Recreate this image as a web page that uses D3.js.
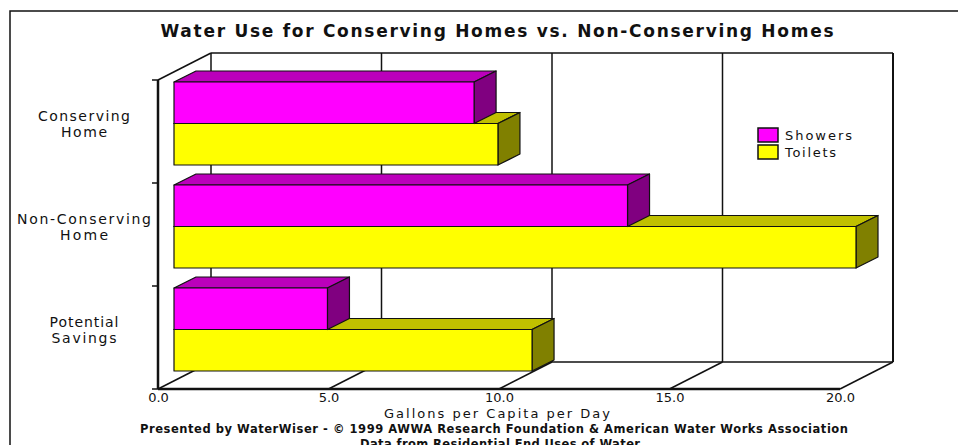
<!DOCTYPE html>
<html>
<head>
<meta charset="utf-8">
<script src="https://cdn.jsdelivr.net/npm/d3@7"></script>
<style>
  body { margin: 0; background: #fff; }
  svg { display: block; }
  text { font-family: "DejaVu Sans", "Liberation Sans", sans-serif; fill: #111; }
</style>
</head>
<body>
<script>
var categories = ["Conserving Home", "Non-Conserving Home", "Potential Savings"];
var categoryLines = [["Conserving", "Home"], ["Non-Conserving", "Home"], ["Potential", "Savings"]];
var series = ["Showers", "Toilets"];
var showers = [8.8, 13.3, 4.5];
var toilets = [9.5, 20.0, 10.5];
var xTicks = [0, 5, 10, 15, 20];

var width = 958, height = 445;

var svg = d3.select("body").append("svg")
    .attr("width", width)
    .attr("height", height);

// outer frame
svg.append("rect")
    .attr("x", 10).attr("y", 11)
    .attr("width", 980).attr("height", 470)
    .attr("fill", "none")
    .attr("stroke", "#111")
    .attr("stroke-width", 1.5);

svg.append("text")
    .attr("x", 497).attr("y", 37)
    .attr("text-anchor", "middle")
    .attr("font-size", 17)
    .attr("font-weight", "bold")
    .attr("textLength", 673)
    .text("Water Use for Conserving Homes vs. Non-Conserving Homes");

// front plane scales
var x = d3.scaleLinear().domain([0, 20]).range([158, 840]);
var y = d3.scaleBand().domain(categories).range([80, 389]);
var y1 = d3.scaleBand().domain(series).range([10, 93]);

// depth of the floor and of the bars
var depth = {dx: 53, dy: -27};
var barOff = {dx: 16, dy: -8};
var barDepth = {dx: 22, dy: -11};

var floorY = y.range()[1];
var g = svg.append("g");

// back wall
var backLeft = x(0) + depth.dx, backRight = x(20) + depth.dx;
var backTop = y.range()[0] + depth.dy, backBottom = floorY + depth.dy;

g.selectAll(".grid")
  .data(xTicks)
  .enter().append("line")
    .attr("x1", function(d) { return x(d) + depth.dx; })
    .attr("x2", function(d) { return x(d) + depth.dx; })
    .attr("y1", backTop)
    .attr("y2", backBottom)
    .attr("stroke", "#111")
    .attr("stroke-width", function(d) { return d == 20 ? 2 : 1.5; });

g.append("line")
    .attr("x1", backLeft).attr("x2", backRight)
    .attr("y1", backTop).attr("y2", backTop)
    .attr("stroke", "#111").attr("stroke-width", 1.5);
g.append("line")
    .attr("x1", backLeft).attr("x2", backRight)
    .attr("y1", backBottom).attr("y2", backBottom)
    .attr("stroke", "#111").attr("stroke-width", 1.5);

// floor diagonals
g.selectAll(".floor")
  .data(xTicks)
  .enter().append("line")
    .attr("x1", function(d) { return x(d); })
    .attr("x2", function(d) { return x(d) + depth.dx; })
    .attr("y1", floorY)
    .attr("y2", floorY + depth.dy)
    .attr("stroke", "#111")
    .attr("stroke-width", 1.5);

// left wall top edge
g.append("line")
    .attr("x1", x(0)).attr("x2", x(0) + depth.dx)
    .attr("y1", y.range()[0]).attr("y2", backTop)
    .attr("stroke", "#111").attr("stroke-width", 1.5);

// front floor edge
g.append("line")
    .attr("x1", x(0)).attr("x2", x(20))
    .attr("y1", floorY).attr("y2", floorY)
    .attr("stroke", "#111").attr("stroke-width", 2.5);

// y axis with ticks at category boundaries
g.append("line")
    .attr("x1", x(0)).attr("x2", x(0))
    .attr("y1", y.range()[0]).attr("y2", floorY)
    .attr("stroke", "#111").attr("stroke-width", 2.5);

var bounds = categories.map(function(c) { return y(c); }).concat([floorY]);
g.selectAll(".ytick")
  .data(bounds)
  .enter().append("line")
    .attr("x1", x(0) - 6).attr("x2", x(0))
    .attr("y1", function(d) { return d; })
    .attr("y2", function(d) { return d; })
    .attr("stroke", "#111").attr("stroke-width", 1.5);

// x axis labels
var xAxis = g.append("g")
    .attr("transform", "translate(0," + floorY + ")")
    .call(d3.axisBottom(x).tickValues(xTicks).tickFormat(d3.format(".1f")).tickSize(0).tickPadding(4));
xAxis.select(".domain").remove();
xAxis.selectAll("text")
    .attr("font-size", 13)
    .attr("fill", "#111")
    .style("font-family", "DejaVu Sans, sans-serif");

// category labels
var labelWidths = [[92, 46], [134, 48], [69, 65]];
categories.forEach(function(c, i) {
  var cy = y(c) + y1.range()[0] + barOff.dy + (y1.range()[1] - y1.range()[0]) / 2;
  var t = g.append("text")
      .attr("text-anchor", "middle")
      .attr("font-size", 14);
  categoryLines[i].forEach(function(line, j) {
    t.append("tspan")
        .attr("x", 84)
        .attr("y", cy - 3 + j * 16)
        .attr("textLength", labelWidths[i][j])
        .text(line);
  });
});

// bars
var colors = {
  Showers: {front: "#ff00ff", top: "#bb00bb", side: "#800080"},
  Toilets: {front: "#ffff00", top: "#c0c000", side: "#808000"}
};

function drawBar(cat, s, v) {
  var x0 = x(0) + barOff.dx, x1 = x(v) + barOff.dx;
  var y0 = y(cat) + y1(s) + barOff.dy, h = y1.bandwidth();
  var dx = barDepth.dx, dy = barDepth.dy;
  var c = colors[s];
  var bar = g.append("g")
      .attr("stroke", "#111")
      .attr("stroke-width", 1.2)
      .attr("stroke-linejoin", "round");
  bar.append("path")
      .attr("fill", c.top)
      .attr("d", "M" + x0 + "," + y0 + "L" + (x0 + dx) + "," + (y0 + dy) +
                 "L" + (x1 + dx) + "," + (y0 + dy) + "L" + x1 + "," + y0 + "Z");
  bar.append("path")
      .attr("fill", c.side)
      .attr("d", "M" + x1 + "," + y0 + "L" + (x1 + dx) + "," + (y0 + dy) +
                 "L" + (x1 + dx) + "," + (y0 + h + dy) + "L" + x1 + "," + (y0 + h) + "Z");
  bar.append("rect")
      .attr("fill", c.front)
      .attr("x", x0).attr("y", y0)
      .attr("width", x1 - x0).attr("height", h);
}

categories.forEach(function(c, i) {
  drawBar(c, "Toilets", toilets[i]);
  drawBar(c, "Showers", showers[i]);
});

// legend
var legend = svg.append("g").attr("transform", "translate(758,128)");
var legendWidths = [67, 51];
series.forEach(function(s, i) {
  legend.append("rect")
      .attr("x", 0).attr("y", i * 17)
      .attr("width", 20).attr("height", 14)
      .attr("fill", colors[s].front)
      .attr("stroke", "#111")
      .attr("stroke-width", 1.5);
  legend.append("text")
      .attr("x", 27).attr("y", i * 17 + 12)
      .attr("font-size", 13)
      .attr("textLength", legendWidths[i])
      .text(s);
});

// axis title and credits
svg.append("text")
    .attr("x", 497).attr("y", 418)
    .attr("text-anchor", "middle")
    .attr("font-size", 13)
    .attr("textLength", 226)
    .text("Gallons per Capita per Day");

svg.append("text")
    .attr("x", 494).attr("y", 433)
    .attr("text-anchor", "middle")
    .attr("font-size", 11.5)
    .attr("font-weight", "bold")
    .attr("textLength", 708)
    .text("Presented by WaterWiser - \u00a9 1999 AWWA Research Foundation & American Water Works Association");

svg.append("text")
    .attr("x", 500).attr("y", 448)
    .attr("text-anchor", "middle")
    .attr("font-size", 11.5)
    .attr("font-weight", "bold")
    .attr("textLength", 280)
    .text("Data from Residential End Uses of Water");
</script>
</body>
</html>
